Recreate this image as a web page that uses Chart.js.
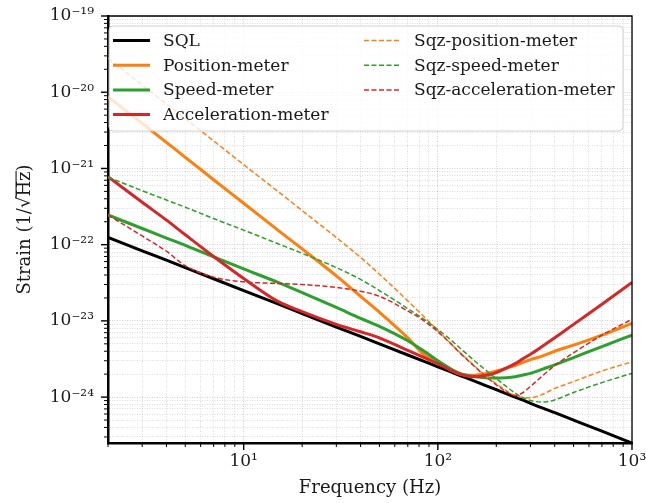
<!DOCTYPE html>
<html><head><meta charset="utf-8">
<script src="https://cdn.jsdelivr.net/npm/chart.js@4/dist/chart.umd.min.js"></script>
<style>html,body{margin:0;padding:0;background:#fff}#wrap{width:646px;height:503px;position:relative}</style>
</head><body><div id="wrap"><canvas id="c" width="646" height="503"></canvas></div>
<script>
// ---- data ----
const freqHz = [2,3,4,5,7,10,15,20,30,40,50,70,85,100,115,130,150,175,200,225,250,275,300,350,400,500,700,1000];
const sqlStrain = [1.25e-22,8.3e-23,6.25e-23,5.0e-23,3.57e-23,2.5e-23,1.67e-23,1.25e-23,8.3e-24,6.25e-24,5.0e-24,3.57e-24,2.94e-24,2.5e-24,2.17e-24,1.92e-24,1.67e-24,1.43e-24,1.25e-24,1.11e-24,1.0e-24,9.1e-25,8.3e-25,7.1e-25,6.25e-25,5.0e-25,3.57e-25,2.5e-25];
const positionMeter = [8.7e-21,3.9e-21,2.2e-21,1.4e-21,7.1e-22,3.5e-22,1.55e-22,8.8e-23,3.9e-23,2.1e-23,1.3e-23,6.0e-24,3.6e-24,2.85e-24,2.3e-24,2.0e-24,1.93e-24,2.02e-24,2.2e-24,2.4e-24,2.6e-24,2.85e-24,3.1e-24,3.5e-24,4.0e-24,4.8e-24,6.5e-24,9.3e-24];
const speedMeter = [2.45e-22,1.63e-22,1.22e-22,9.8e-23,6.9e-23,4.8e-23,3.2e-23,2.35e-23,1.5e-23,1.08e-23,8.5e-24,5.5e-24,4.0e-24,3.0e-24,2.4e-24,2.05e-24,1.88e-24,1.8e-24,1.78e-24,1.8e-24,1.85e-24,1.95e-24,2.05e-24,2.35e-24,2.65e-24,3.3e-24,4.6e-24,6.5e-24];
const accelerationMeter = [7.8e-22,3.6e-22,2.1e-22,1.35e-22,7.0e-23,3.6e-23,1.8e-23,1.32e-23,9.0e-24,7.2e-24,6.0e-24,4.1e-24,3.3e-24,2.75e-24,2.3e-24,2.0e-24,1.85e-24,1.92e-24,2.1e-24,2.4e-24,2.75e-24,3.2e-24,3.65e-24,4.75e-24,6.0e-24,9.0e-24,1.65e-23,3.2e-23];
const sqzPositionMeter = [2.8e-20,1.24e-20,7.0e-21,4.5e-21,2.3e-21,1.12e-21,5.0e-22,2.8e-22,1.24e-22,6.8e-23,4.1e-23,1.83e-23,1.13e-23,7.5e-24,5.2e-24,3.85e-24,2.75e-24,1.93e-24,1.5e-24,1.22e-24,1.05e-24,9.9e-25,9.8e-25,1.1e-24,1.3e-24,1.6e-24,2.2e-24,2.9e-24];
const sqzSpeedMeter = [7.7e-22,5.1e-22,3.85e-22,3.1e-22,2.2e-22,1.55e-22,1.03e-22,7.7e-23,5.0e-23,3.5e-23,2.5e-23,1.45e-23,1.05e-23,7.7e-24,5.8e-24,4.4e-24,3.2e-24,2.3e-24,1.75e-24,1.38e-24,1.13e-24,9.8e-25,9.0e-25,8.6e-25,9.2e-25,1.15e-24,1.55e-24,2.05e-24];
const sqzAccelerationMeter = [2.45e-22,1.3e-22,8.2e-23,5.3e-23,3.75e-23,3.25e-23,3.1e-23,3.0e-23,2.75e-23,2.45e-23,2.1e-23,1.35e-23,1.0e-23,7.2e-24,5.2e-24,3.8e-24,2.7e-24,1.9e-24,1.45e-24,1.18e-24,1.05e-24,1.15e-24,1.38e-24,1.95e-24,2.6e-24,3.8e-24,6.5e-24,1.05e-23];

const seriesLabels = ['SQL','Position-meter','Speed-meter','Acceleration-meter','Sqz-position-meter','Sqz-speed-meter','Sqz-acceleration-meter'];
const seriesValues = [sqlStrain, positionMeter, speedMeter, accelerationMeter, sqzPositionMeter, sqzSpeedMeter, sqzAccelerationMeter];
const seriesColors = ['#000000','#ff7f0e','#2ca02c','#d62728','#ff7f0e','#2ca02c','#d62728'];
const seriesDashed = [false,false,false,false,true,true,true];
const xLimits = [2, 1000];
const yLimits = [2.5e-25, 1e-19];

// ---- helpers ----
const FONT = '"DejaVu Serif", "Liberation Serif", serif';
const SUP = {'-':'\u207B','0':'\u2070','1':'\u00B9','2':'\u00B2','3':'\u00B3','4':'\u2074','5':'\u2075','6':'\u2076','7':'\u2077','8':'\u2078','9':'\u2079'};
function pow10Label(v){ const e = Math.round(Math.log10(v)); return '10' + String(e).split('').map(c => SUP[c]).join(''); }
function logTicks(min, max){
  const t = [];
  for (let e = Math.floor(Math.log10(min)) - 1; e <= Math.ceil(Math.log10(max)); e++) {
    for (let m = 1; m < 10; m++) {
      const v = Number(m + 'e' + e);
      if (v >= min * 0.9999999 && v <= max * 1.0000001) t.push({value: v, major: m === 1});
    }
  }
  return t;
}
const gridColor = ctx => (ctx.tick && ctx.tick.major) ? 'rgba(0,0,0,0.24)' : 'rgba(0,0,0,0.17)';

const datasets = seriesLabels.map((lab, i) => ({
  label: lab,
  data: freqHz.map((f, k) => ({x: f, y: seriesValues[i][k]})),
  borderColor: seriesColors[i],
  backgroundColor: seriesColors[i],
  borderWidth: seriesDashed[i] ? 1.5 : 3,
  borderDash: seriesDashed[i] ? [5, 2.5] : [],
  pointRadius: 0,
  fill: false,
  cubicInterpolationMode: 'monotone',
  order: -i
}));

// ticks + top/right spines + overline in y title
const frameTicks = {
  id: 'frameTicks',
  afterDraw(chart) {
    const {ctx, chartArea: a} = chart;
    const xs = chart.scales.x, ys = chart.scales.y;
    ctx.save();
    ctx.strokeStyle = '#000';
    ctx.lineWidth = 1.3;
    ctx.beginPath();
    ctx.moveTo(a.left, a.top); ctx.lineTo(a.right, a.top); ctx.lineTo(a.right, a.bottom);
    ctx.stroke();
    ys.ticks.forEach(t => {
      const p = ys.getPixelForValue(t.value);
      ctx.lineWidth = t.major ? 1.4 : 1;
      ctx.beginPath(); ctx.moveTo(a.left, p); ctx.lineTo(a.left - (t.major ? 7 : 4), p); ctx.stroke();
    });
    xs.ticks.forEach(t => {
      const p = xs.getPixelForValue(t.value);
      ctx.lineWidth = t.major ? 1.4 : 1;
      ctx.beginPath(); ctx.moveTo(p, a.bottom); ctx.lineTo(p, a.bottom + (t.major ? 7 : 4)); ctx.stroke();
    });
    ctx.restore();

    const tf = ys.options.title;
    const txt = tf.text;
    const lh = 18 * 1.2;
    const tx = ys.left + tf.padding.top + lh / 2;
    const ty = (ys.top + ys.bottom) / 2;
    ctx.save();
    ctx.font = '18px ' + FONT;
    ctx.textBaseline = 'middle';
    const W = ctx.measureText(txt).width;
    const p1 = ctx.measureText('Strain (1/\u221A').width;
    const p2 = ctx.measureText('Strain (1/\u221AHz').width;
    const asc = ctx.measureText('\u221A').actualBoundingBoxAscent;
    ctx.translate(tx, ty);
    ctx.rotate(-Math.PI / 2);
    ctx.strokeStyle = '#1a1a1a';
    ctx.lineWidth = 1.1;
    ctx.beginPath();
    ctx.moveTo(-W / 2 + p1 - 1.5, -asc + 0.6);
    ctx.lineTo(-W / 2 + p2 + 0.5, -asc + 0.6);
    ctx.stroke();
    ctx.restore();
  }
};

// two-column legend box in the upper right
const boxLegend = {
  id: 'boxLegend',
  afterDatasetsDraw(chart) {
    const {ctx} = chart;
    const x0 = 109, y0 = 26, x1 = 623, y1 = 131, r = 4;
    ctx.save();
    ctx.beginPath();
    ctx.moveTo(x0 + r, y0); ctx.lineTo(x1 - r, y0); ctx.arcTo(x1, y0, x1, y0 + r, r);
    ctx.lineTo(x1, y1 - r); ctx.arcTo(x1, y1, x1 - r, y1, r);
    ctx.lineTo(x0 + r, y1); ctx.arcTo(x0, y1, x0, y1 - r, r);
    ctx.lineTo(x0, y0 + r); ctx.arcTo(x0, y0, x0 + r, y0, r);
    ctx.closePath();
    ctx.fillStyle = 'rgba(255,255,255,0.8)';
    ctx.fill();
    ctx.strokeStyle = 'rgba(204,204,204,0.9)';
    ctx.lineWidth = 1;
    ctx.stroke();
    const rowY = [40.5, 65.2, 89.9, 114.6];
    ctx.font = '17px ' + FONT;
    ctx.textBaseline = 'middle';
    ctx.textAlign = 'left';
    chart.data.datasets.forEach((ds, i) => {
      const col = i < 4 ? 0 : 1;
      const row = i < 4 ? i : i - 4;
      const hx0 = col ? 364 : 113, hx1 = col ? 399 : 150, tx = col ? 414 : 163;
      const y = rowY[row];
      ctx.strokeStyle = ds.borderColor;
      ctx.lineWidth = ds.borderWidth;
      ctx.setLineDash(ds.borderDash || []);
      ctx.beginPath(); ctx.moveTo(hx0, y); ctx.lineTo(hx1, y); ctx.stroke();
      ctx.setLineDash([]);
      ctx.fillStyle = '#1a1a1a';
      ctx.fillText(ds.label, tx, y + 1);
    });
    ctx.restore();
  }
};

new Chart(document.getElementById('c'), {
  type: 'line',
  data: {datasets},
  options: {
    responsive: false,
    animation: false,
    devicePixelRatio: 1,
    layout: {padding: {left: 0, top: 16, right: 14, bottom: 0}},
    plugins: {legend: {display: false}, tooltip: {enabled: false}},
    scales: {
      x: {
        type: 'logarithmic', min: xLimits[0], max: xLimits[1],
        afterBuildTicks: s => { s.ticks = logTicks(xLimits[0], xLimits[1]); },
        afterFit: s => { s.height = 60; s.paddingLeft = 0; s.paddingRight = 0; },
        ticks: {autoSkip: false, maxRotation: 0, padding: 8, color: '#1a1a1a', font: {family: FONT, size: 17},
          callback: (v, i, ts) => ts[i].major ? pow10Label(v) : ''},
        grid: {color: gridColor, lineWidth: 0.8, drawTicks: false},
        border: {display: true, color: '#000', width: 2.5, dash: [1, 1.5]},
        title: {display: true, text: 'Frequency (Hz)', color: '#1a1a1a', font: {family: FONT, size: 18}, padding: {top: 0, bottom: 4}}
      },
      y: {
        type: 'logarithmic', min: yLimits[0], max: yLimits[1],
        afterBuildTicks: s => { s.ticks = logTicks(yLimits[0], yLimits[1]); },
        afterFit: s => { s.width = 108; s.paddingTop = 0; s.paddingBottom = 0; },
        ticks: {autoSkip: false, padding: 14, color: '#1a1a1a', font: {family: FONT, size: 17},
          callback: (v, i, ts) => ts[i].major ? pow10Label(v) : ''},
        grid: {color: gridColor, lineWidth: 0.8, drawTicks: false},
        border: {display: true, color: '#000', width: 2.5, dash: [1, 1.5]},
        title: {display: true, text: 'Strain (1/\u221AHz)', color: '#1a1a1a', font: {family: FONT, size: 18}, padding: {top: 15, bottom: 0}}
      }
    }
  },
  plugins: [frameTicks, boxLegend]
});
</script>
</body></html>
